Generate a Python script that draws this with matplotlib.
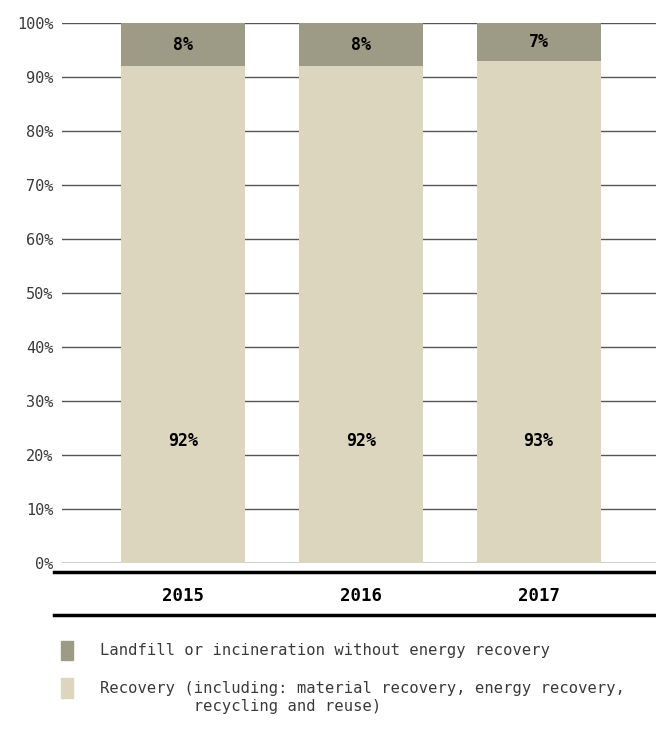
import matplotlib
matplotlib.use("Agg")
import matplotlib.pyplot as plt
from matplotlib.patches import Rectangle
from matplotlib.lines import Line2D

years = ["2015", "2016", "2017"]
recovery = [92, 92, 93]
landfill = [8, 8, 7]
yticks = [0, 10, 20, 30, 40, 50, 60, 70, 80, 90, 100]
legend_labels = ["Landfill or incineration without energy recovery",
                 "Recovery (including: material recovery, energy recovery,\n          recycling and reuse)"]

c_dark = "#9d9a86"
c_light = "#dcd6be"
mono = ["DejaVu Sans Mono"]

W, H = 656, 730
fig = plt.figure(figsize=(W/100, H/100), dpi=100)
ax = fig.add_axes([62/W, (H-563)/H, 1-62/W, 540/H])

x = list(range(len(years)))
bw = 0.697
ax.bar(x, recovery, width=bw, color=c_light, zorder=2)
ax.bar(x, landfill, bottom=recovery, width=bw, color=c_dark, zorder=2)

for i in x:
    ax.text(i, 22.5, f"{recovery[i]}%", ha="center", va="center",
            fontsize=12, fontweight="bold", family=mono, zorder=3)
    ax.text(i, recovery[i] + landfill[i]/2, f"{landfill[i]}%", ha="center", va="center",
            fontsize=12, fontweight="bold", family=mono, zorder=3)

ax.set_xlim(-0.68, 2.66)
ax.set_ylim(0, 100)
ax.set_yticks(yticks)
ax.set_yticklabels([f"{t}%" for t in yticks], family=mono, fontsize=11, color="#3a3a3a")
ax.tick_params(axis="y", length=0, pad=6)
ax.set_xticks([])
for t in yticks:
    ax.axhline(t, color="#555555" if t else "#000000", lw=1.0, zorder=1)
for s in ax.spines.values():
    s.set_visible(False)

# rules and year labels below
fig.add_artist(Line2D([54/W, 1], [(H-572)/H]*2, color="black", lw=2.5))
fig.add_artist(Line2D([54/W, 1], [(H-615)/H]*2, color="black", lw=2.5))
for i, yr in enumerate(years):
    xp = ax.transData.transform((i, 0))[0] / W
    fig.text(xp, (H-596)/H, yr, ha="center", va="center", fontsize=12.5,
             fontweight="bold", family=mono)

# legend
fig.add_artist(Rectangle((61/W, (H-660)/H), 12/W, 19/H, color=c_dark, transform=fig.transFigure))
fig.add_artist(Rectangle((61/W, (H-698)/H), 12/W, 20/H, color=c_light, transform=fig.transFigure))
fig.text(100/W, (H-651)/H, legend_labels[0], ha="left", va="center", fontsize=11.2,
         family=mono, color="#3a3a3a")
for k, line in enumerate(legend_labels[1].split("\n")):
    fig.text(100/W, (H-688-18*k)/H, line, ha="left", va="center", fontsize=11.2,
             family=mono, color="#3a3a3a")

fig.savefig("out.png", dpi=100)
